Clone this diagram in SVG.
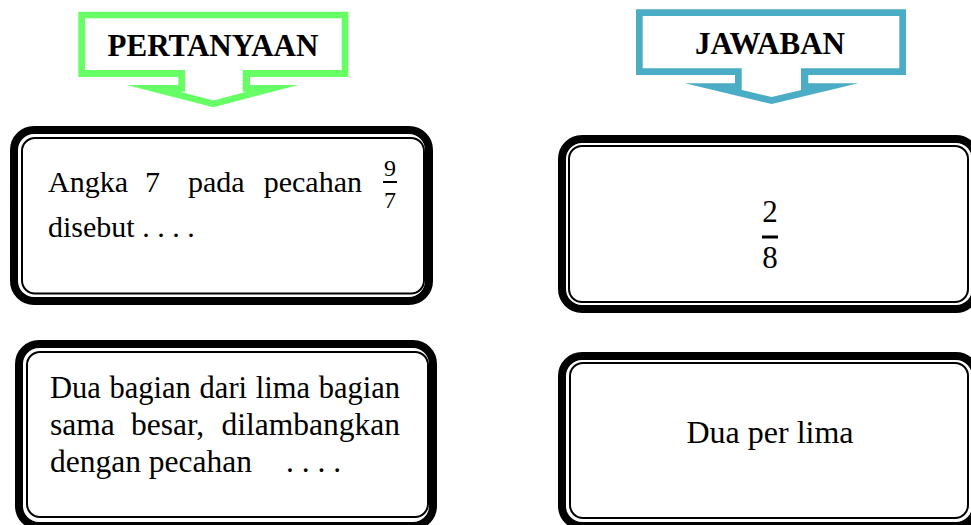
<svg xmlns="http://www.w3.org/2000/svg" width="971" height="525" viewBox="0 0 971 525">
  <style>
    .txt { font-family: "Liberation Serif", "Times New Roman", serif; fill: #000; }
    .head { font-weight: bold; font-size: 31px; }
    .body { font-size: 30px; }
    .body2 { font-size: 31.5px; }
    .tight { font-size: 30.5px; }
    .ans { font-size: 32px; }
    .frac { font-size: 24px; }
    .frac2 { font-size: 31px; }
    .thick { fill: none; stroke: #000; stroke-width: 8; }
    .thin { fill: none; stroke: #000; stroke-width: 2; }
    .white { fill: #fff; }
    .green { fill: #66FF66; }
    .blue { fill: #4BACC6; }
  </style>
  <rect width="971" height="525" fill="#fff"/>

  <!-- header callout: PERTANYAAN -->
  <g id="head-pertanyaan">
    <polygon class="green" points="78.3,11.7 348.3,11.7 348.3,77 250,77 250,85 298.3,85 213.3,107.3 126.7,85 178.3,85 178.3,77 78.3,77"/>
    <polygon class="white" points="85,18.3 341.7,18.3 341.7,70 242.7,70 242.7,91.7 246.5,91.7 213.3,100.4 180.1,91.7 185,91.7 185,70 85,70"/>
    <text class="txt head" x="213" y="55.5" text-anchor="middle">PERTANYAAN</text>
  </g>

  <!-- header callout: JAWABAN -->
  <g id="head-jawaban">
    <polygon class="blue" points="636,9.3 906,9.3 906,75 808.3,75 808.3,83.3 858.3,83.3 771.7,104 685,83.3 735,83.3 735,75 636,75"/>
    <polygon class="white" points="642.7,16 899.3,16 899.3,68.3 801,68.3 801,90 801.4,90 771.7,97.1 741.9,90 741.7,90 741.7,68.3 642.7,68.3"/>
    <text class="txt head" x="770" y="53.5" text-anchor="middle">JAWABAN</text>
  </g>

  <!-- question 1 -->
  <g id="q1">
    <rect class="thick" x="14" y="130" width="415" height="171" rx="20"/>
    <rect class="thin" x="22" y="138" width="402" height="155.5" rx="13"/>
    <text class="txt body" y="192"><tspan x="48">Angka</tspan><tspan x="145">7</tspan><tspan x="188">pada</tspan><tspan x="362" text-anchor="end">pecahan</tspan></text>
    <text class="txt frac" x="390" y="176" text-anchor="middle">9</text>
    <rect x="383" y="181" width="14" height="2"/>
    <text class="txt frac" x="390" y="208" text-anchor="middle">7</text>
    <text class="txt body" x="48" y="237">disebut . . . .</text>
  </g>

  <!-- answer 1 -->
  <g id="a1">
    <rect class="thick" x="562" y="139" width="414" height="170" rx="20"/>
    <rect class="thin" x="569" y="146" width="399" height="156" rx="13"/>
    <text class="txt frac2" x="770" y="222" text-anchor="middle">2</text>
    <rect x="762" y="235.5" width="16" height="3"/>
    <text class="txt frac2" x="770" y="268" text-anchor="middle">8</text>
  </g>

  <!-- question 2 -->
  <g id="q2">
    <rect class="thick" x="19" y="344" width="414" height="182" rx="20"/>
    <rect class="thin" x="27" y="352" width="401" height="165" rx="13"/>
    <text class="txt tight" y="398"><tspan x="50">Dua</tspan><tspan x="109.5">bagian</tspan><tspan x="199.6">dari</tspan><tspan x="255.8">lima</tspan><tspan x="400" text-anchor="end">bagian</tspan></text>
    <text class="txt body2" y="435"><tspan x="50">sama</tspan><tspan x="131">besar,</tspan><tspan x="400" text-anchor="end">dilambangkan</tspan></text>
    <text class="txt body2" y="472"><tspan x="50">dengan pecahan</tspan><tspan x="286">. . . .</tspan></text>
  </g>

  <!-- answer 2 -->
  <g id="a2">
    <rect class="thick" x="562" y="356" width="414" height="170" rx="20"/>
    <rect class="thin" x="570" y="363" width="398" height="155" rx="13"/>
    <text class="txt ans" x="770" y="443" text-anchor="middle">Dua per lima</text>
  </g>

  <g id="connectors"/>
</svg>
